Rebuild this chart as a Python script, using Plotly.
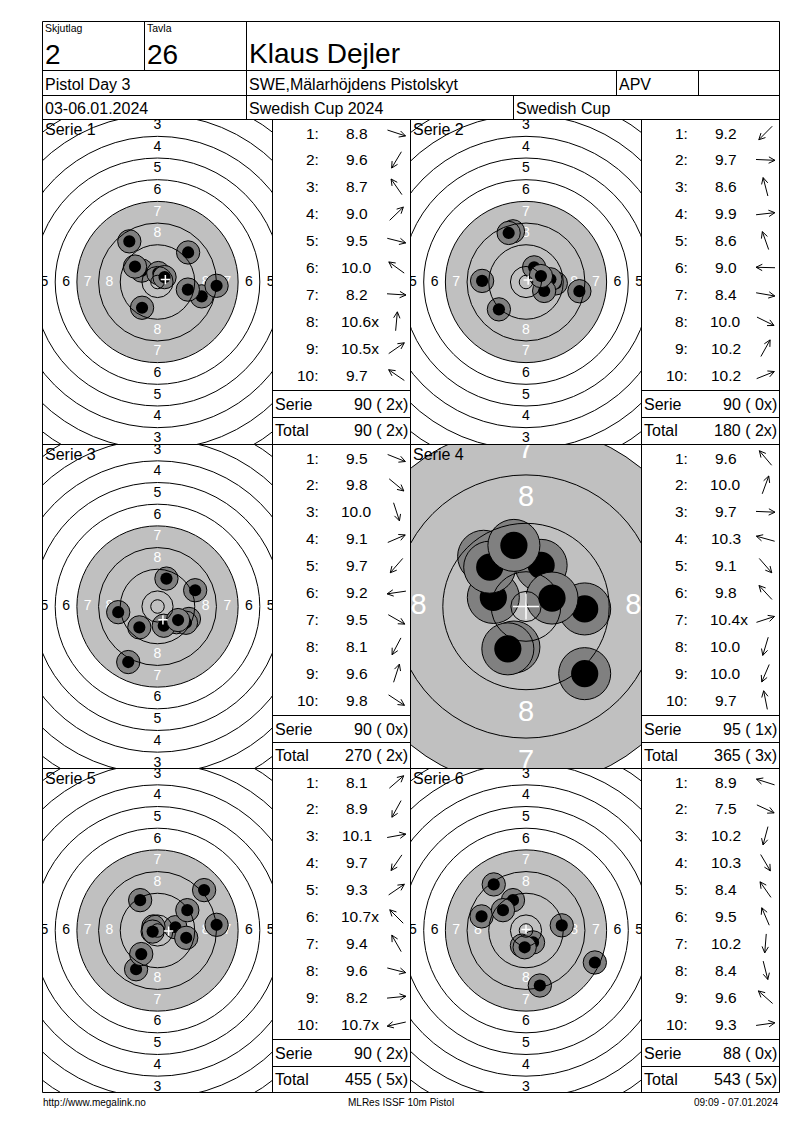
import math
import plotly.graph_objects as go

# ---- header / footer texts ----
relay_label, relay = "Skjutlag", "2"
target_label, target_no = "Tavla", "26"
shooter = "Klaus Dejler"
event = "Pistol Day 3"
club = "SWE,Mälarhöjdens Pistolskyt"
shooter_class = "APV"
dates = "03-06.01.2024"
competition = "Swedish Cup 2024"
cup = "Swedish Cup"
footer_left = "http://www.megalink.no"
footer_mid = "MLRes ISSF 10m Pistol"
footer_right = "09:09 - 07.01.2024"

# ---- series data ----
serie_names = ["Serie 1", "Serie 2", "Serie 3", "Serie 4", "Serie 5", "Serie 6"]

s1_scores = [8.8, 9.6, 8.7, 9.0, 9.5, 10.0, 8.2, 10.6, 10.5, 9.7]
s1_tens = [0, 0, 0, 0, 0, 0, 0, 1, 1, 0]
s1_x = [16.3, -5.7, -10.4, 11.3, 11.2, -5.8, 21.8, 0.3, 2.6, -8.3]
s1_y = [-5.3, -9.5, 15.0, 10.9, -2.8, 4.2, -1.4, 3.3, 1.8, 5.7]

s2_scores = [9.2, 9.7, 8.6, 9.9, 8.6, 9.0, 8.4, 10.0, 10.2, 10.2]
s2_tens = [0, 0, 0, 0, 0, 0, 0, 0, 0, 0]
s2_x = [-10.0, 11.0, -4.8, 9.0, -6.4, -16.2, 19.7, 6.7, 3.0, 5.5]
s2_y = [-10.1, -0.5, 18.7, 1.0, 18.1, 0.4, -3.4, -3.3, 5.4, 2.2]

s3_scores = [9.5, 9.8, 10.0, 9.1, 9.7, 9.2, 9.5, 8.1, 9.6, 9.8]
s3_tens = [0, 0, 0, 0, 0, 0, 0, 0, 0, 0]
s3_x = [11.6, 7.0, 2.3, 13.9, -6.7, -14.5, 10.5, -10.8, 3.3, 7.6]
s3_y = [-4.6, -5.8, -7.1, 6.0, -7.7, -2.1, -6.0, -20.5, 10.3, -5.0]

s4_scores = [9.6, 10.0, 9.7, 10.3, 9.1, 9.8, 10.4, 10.0, 10.0, 9.7]
s4_tens = [0, 0, 0, 0, 0, 0, 1, 0, 0, 0]
s4_x = [-7.0, 2.5, 9.7, -5.4, 9.7, -6.0, 4.3, -2.0, -3.0, -2.0]
s4_y = [8.3, 6.8, -0.4, 1.5, -11.1, 6.5, 1.4, -6.7, -7.0, 10.1]

s5_scores = [8.1, 8.9, 10.1, 9.7, 9.3, 10.7, 9.4, 9.6, 8.2, 10.7]
s5_tens = [0, 0, 0, 0, 0, 1, 0, 0, 0, 1]
s5_x = [17.2, -7.9, 6.6, -6.0, 11.0, -1.5, -6.4, 10.6, 21.8, -1.8]
s5_y = [14.9, -14.3, 1.2, -8.7, 7.5, 1.5, 11.2, -2.7, 2.1, -0.4]

s6_scores = [8.9, 7.5, 10.2, 10.3, 8.4, 9.5, 10.2, 8.4, 9.6, 9.3]
s6_tens = [0, 0, 0, 0, 0, 0, 0, 0, 0, 0]
s6_x = [-16.4, 25.4, -1.5, 2.6, -11.9, -4.8, -0.5, 5.1, -8.5, 13.2]
s6_y = [5.2, -11.8, -5.6, -4.4, 17.0, 11.2, -6.2, -20.3, 7.5, 1.9]

serie_sum = [90, 90, 90, 95, 90, 88]
serie_inner = [2, 0, 0, 1, 2, 0]
total_sum = [90, 180, 270, 365, 455, 543]
total_inner = [2, 2, 2, 3, 5, 5]
mpi_x = [2.9, 0.8, 2.0, 0.0, 4.1, 0.0]
mpi_y = [0.9, 0.7, -4.9, 0.0, -0.2, 0.4]

series = [
    (s1_scores, s1_tens, s1_x, s1_y),
    (s2_scores, s2_tens, s2_x, s2_y),
    (s3_scores, s3_tens, s3_x, s3_y),
    (s4_scores, s4_tens, s4_x, s4_y),
    (s5_scores, s5_tens, s5_x, s5_y),
    (s6_scores, s6_tens, s6_x, s6_y),
]

# ---- page geometry (pixels as seen in the window) ----
W, H = 800, 1130
OX, OY = 8, 8          # page body margin of the html file
FONT = "Liberation Sans, Arial, sans-serif"
LEFT, RIGHT = 42.5, 779.5
TOP = 21.5
HEAD_Y = [21.5, 70.5, 95.5, 119.5]
col_target = [42.5, 410.5]
col_table = [272.5, 641.5]
col_end = [410.5, 779.5]
row_edges = [119.5, 444.5, 768.5, 1092.5]
px_per_mm = [2.71, 2.71, 2.71, 6.05, 2.71, 2.71]
label_size = [14, 14, 14, 29, 14, 14]
cross_mm = [1.7, 1.7, 1.7, 2.15, 1.7, 1.7]

# ISSF 10m pistol target (mm)
ring_r = {s: 5.75 + 8 * (10 - s) for s in range(1, 11)}
INNER_TEN = 2.5
BLACK_R = 29.75
SHOT_OUT, SHOT_IN = 4.3, 2.25

shapes = []
anns = []
fig = go.Figure()
fig.add_trace(go.Scatter(x=[OX], y=[OY], mode="markers", marker=dict(opacity=0),
                         hoverinfo="skip", showlegend=False))


def line(x0, y0, x1, y1, ref=("x", "y"), color="black", width=1, layer="above"):
    shapes.append(dict(type="line", xref=ref[0], yref=ref[1], x0=x0, y0=y0, x1=x1, y1=y1,
                       line=dict(color=color, width=width), layer=layer))


def txt(x, y, s, size, anchor="left", color="black"):
    anns.append(dict(x=x, y=y, xref="x", yref="y", text=s, showarrow=False,
                     xanchor=anchor, yanchor="middle",
                     font=dict(family=FONT, size=size, color=color)))


# ---- header frame ----
for yy in HEAD_Y:
    line(LEFT, yy, RIGHT, yy)
line(LEFT, TOP, LEFT, row_edges[-1])
line(RIGHT, TOP, RIGHT, row_edges[-1])
line(144.5, HEAD_Y[0], 144.5, HEAD_Y[1])
line(246.5, HEAD_Y[0], 246.5, HEAD_Y[3])
line(616.5, HEAD_Y[1], 616.5, HEAD_Y[2])
line(698.5, HEAD_Y[1], 698.5, HEAD_Y[2])
line(513.5, HEAD_Y[2], 513.5, HEAD_Y[3])

txt(43, 27.5, relay_label, 10.5)
txt(43, 54, relay, 28)
txt(145, 27.5, target_label, 10.5)
txt(145, 54, target_no, 28)
txt(247, 53, shooter, 28)
txt(43, 84, event, 16)
txt(247, 84, club, 16)
txt(617, 84, shooter_class, 16)
txt(43, 108, dates, 16)
txt(247, 108, competition, 16)
txt(514, 108, cup, 16)

# ---- series panels frame ----
for yy in row_edges[1:]:
    line(LEFT, yy, RIGHT, yy)
for xx in [col_table[0], col_target[1], col_table[1]]:
    line(xx, HEAD_Y[3], xx, row_edges[-1])

layout_axes = {}
for i, (scores, tens, sx, sy) in enumerate(series):
    col, row = i % 2, i // 2
    n = i + 2
    xa, ya = f"x{n}", f"y{n}"
    x0, x1 = col_target[col], col_table[col]
    y0, y1 = row_edges[row], row_edges[row + 1]
    s = px_per_mm[i]
    layout_axes[f"xaxis{n}"] = dict(domain=[(x0 - OX) / W, (x1 - OX) / W],
                                    range=[-(x1 - x0) / 2 / s, (x1 - x0) / 2 / s],
                                    anchor=ya, visible=False, fixedrange=True)
    layout_axes[f"yaxis{n}"] = dict(domain=[1 - (y1 - OY) / H, 1 - (y0 - OY) / H],
                                    range=[-(y1 - y0) / 2 / s, (y1 - y0) / 2 / s],
                                    anchor=xa, visible=False, fixedrange=True)

    # grey aiming area
    shapes.append(dict(type="circle", xref=xa, yref=ya, x0=-BLACK_R, y0=-BLACK_R, x1=BLACK_R, y1=BLACK_R,
                       fillcolor="#c0c0c0", line=dict(width=0), layer="below"))

    # ring numbers
    for lo, hi, colr in [(1, 6, "black"), (7, 8, "white")]:
        lx, ly, lt = [], [], []
        for v in range(lo, hi + 1):
            r = ring_r[v] - 4
            for px, py in [(0, r), (0, -r), (-r, 0), (r, 0)]:
                lx.append(px)
                ly.append(py)
                lt.append(str(v))
        fig.add_trace(go.Scatter(x=lx, y=ly, text=lt, mode="text", xaxis=xa, yaxis=ya,
                                 textfont=dict(family=FONT, size=label_size[i], color=colr),
                                 hoverinfo="skip", showlegend=False, cliponaxis=True))

    # shots
    for k in range(len(scores)):
        shapes.append(dict(type="circle", xref=xa, yref=ya,
                           x0=sx[k] - SHOT_OUT, x1=sx[k] + SHOT_OUT, y0=sy[k] - SHOT_OUT, y1=sy[k] + SHOT_OUT,
                           fillcolor="#808080", line=dict(color="black", width=1), layer="above"))
        shapes.append(dict(type="circle", xref=xa, yref=ya,
                           x0=sx[k] - SHOT_IN, x1=sx[k] + SHOT_IN, y0=sy[k] - SHOT_IN, y1=sy[k] + SHOT_IN,
                           fillcolor="black", line=dict(width=0), layer="above"))

    # ring lines
    for r in sorted(ring_r.values()) + [INNER_TEN]:
        shapes.append(dict(type="circle", xref=xa, yref=ya, x0=-r, y0=-r, x1=r, y1=r,
                           line=dict(color="black", width=1), layer="above"))

    # mean point of impact
    c = cross_mm[i]
    line(mpi_x[i] - c, mpi_y[i], mpi_x[i] + c, mpi_y[i], ref=(xa, ya), color="white", width=1.5)
    line(mpi_x[i], mpi_y[i] - c, mpi_x[i], mpi_y[i] + c, ref=(xa, ya), color="white", width=1.5)

    txt(x0 + 0.5, y0 + 10, serie_names[i], 16)

    # table
    tx0, tx1 = col_table[col], col_end[col]
    line(tx0, y0 + 271, tx1, y0 + 271)
    line(tx0, y0 + 298, tx1, y0 + 298)
    for k in range(len(scores)):
        ry = y0 + 13.5 + 26.9 * k
        txt(tx0 + 48, ry, f"{k + 1}:", 15.5, anchor="right")
        label = f"{scores[k]:.1f}" + ("x" if tens[k] else "")
        txt(tx0 + 84 + (3.8 if tens[k] else 0), ry, label, 15.5, anchor="center")
        th = math.atan2(sy[k], sx[k])
        dx, dy = math.cos(th), -math.sin(th)
        cx, cy = tx0 + 124, ry
        L, hl, sp = 19, 7, math.radians(27)
        hx, hy = cx + dx * L / 2, cy + dy * L / 2
        bx, by = cx - dx * L / 2, cy - dy * L / 2
        back = math.atan2(-dy, -dx)
        h1 = (hx + hl * math.cos(back + sp), hy + hl * math.sin(back + sp))
        h2 = (hx + hl * math.cos(back - sp), hy + hl * math.sin(back - sp))
        path = (f"M{bx:.2f},{by:.2f} L{hx:.2f},{hy:.2f} M{h1[0]:.2f},{h1[1]:.2f} "
                f"L{hx:.2f},{hy:.2f} L{h2[0]:.2f},{h2[1]:.2f}")
        shapes.append(dict(type="path", xref="x", yref="y", path=path,
                           line=dict(color="black", width=1), layer="above"))
    txt(tx0 + 0.5, y0 + 284.5, "Serie", 16)
    txt(tx1 - 1, y0 + 284.5, f"{serie_sum[i]} ({serie_inner[i]:2d}x)", 16, anchor="right")
    txt(tx0 + 0.5, y0 + 311, "Total", 16)
    txt(tx1 - 1, y0 + 311, f"{total_sum[i]} ({total_inner[i]:2d}x)", 16, anchor="right")

# ---- footer ----
txt(41, 1102, footer_left, 10)
txt(401, 1102, footer_mid, 10, anchor="center")
txt(780, 1102, footer_right, 10, anchor="right")

fig.update_layout(
    width=W, height=H,
    margin=dict(l=0, r=0, t=0, b=0),
    paper_bgcolor="white", plot_bgcolor="rgba(0,0,0,0)",
    showlegend=False,
    xaxis=dict(domain=[0, 1], range=[OX, OX + W], visible=False, fixedrange=True),
    yaxis=dict(domain=[0, 1], range=[OY + H, OY], visible=False, fixedrange=True),
    shapes=shapes, annotations=anns,
    **layout_axes,
)
fig.write_html("out.html")
